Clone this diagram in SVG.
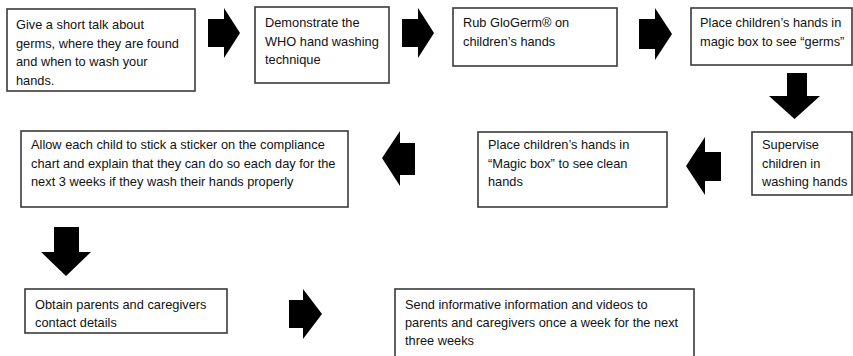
<svg xmlns="http://www.w3.org/2000/svg" width="853" height="356" viewBox="0 0 853 356">
<style>
.box{fill:#fff;stroke:#3a3a3a;stroke-width:1.6}
.t{font-family:"Liberation Sans",Arial,sans-serif;font-size:12.8px;fill:#111}
.arr{fill:#000}
</style>
<rect width="853" height="356" fill="#fff"/>
<g id="n1"><rect class="box" x="7" y="9" width="188" height="82"/>
<text class="t" x="16" y="29">Give a short talk about</text>
<text class="t" x="16" y="47.5">germs, where they are found</text>
<text class="t" x="16" y="66">and when to wash your</text>
<text class="t" x="16" y="84.5">hands.</text></g>
<g id="n2"><rect class="box" x="255" y="7" width="134" height="76"/>
<text class="t" x="265" y="27">Demonstrate the</text>
<text class="t" x="265" y="45.5">WHO hand washing</text>
<text class="t" x="265" y="63.5">technique</text></g>
<g id="n3"><rect class="box" x="453" y="8" width="164" height="58"/>
<text class="t" x="463" y="27">Rub GloGerm® on</text>
<text class="t" x="463" y="46">children’s hands</text></g>
<g id="n4"><rect class="box" x="691" y="8" width="161" height="57"/>
<text class="t" x="700" y="26.5">Place children’s hands in</text>
<text class="t" x="700" y="46">magic box to see “germs”</text></g>
<g id="n5"><rect class="box" x="752" y="132" width="100" height="63"/>
<text class="t" x="762" y="149">Supervise</text>
<text class="t" x="762" y="168">children in</text>
<text class="t" x="762" y="186">washing hands</text></g>
<g id="n6"><rect class="box" x="478" y="132" width="189" height="75"/>
<text class="t" x="488" y="149">Place children’s hands in</text>
<text class="t" x="488" y="168">“Magic box” to see clean</text>
<text class="t" x="488" y="186">hands</text></g>
<g id="n7"><rect class="box" x="21" y="131" width="327" height="76"/>
<text class="t" x="31" y="149">Allow each child to stick a sticker on the compliance</text>
<text class="t" x="31" y="167.5">chart and explain that they can do so each day for the</text>
<text class="t" x="31" y="186">next 3 weeks if they wash their hands properly</text></g>
<g id="n8"><rect class="box" x="25" y="289" width="202" height="44"/>
<text class="t" x="35" y="309">Obtain parents and caregivers</text>
<text class="t" x="35" y="327">contact details</text></g>
<g id="n9"><rect class="box" x="395" y="289" width="299" height="80"/>
<text class="t" x="405" y="309">Send informative information and videos to</text>
<text class="t" x="405" y="327">parents and caregivers once a week for the next</text>
<text class="t" x="405" y="345">three weeks</text></g>
<g id="connectors">
<polygon class="arr" points="208,19 224,19 224,8 240,33 224,58 224,47 208,47"/>
<polygon class="arr" points="402,19 418,19 418,8 434,33 418,58 418,47 402,47"/>
<polygon class="arr" points="639,19 655,19 655,8 672,34 655,60 655,49 639,49"/>
<polygon class="arr" points="787,73 807,73 807,96 820,96 794.5,119 769,96 787,96"/>
<polygon class="arr" points="721,152 705,152 705,137 686,166 705,195 705,181 721,181"/>
<polygon class="arr" points="415,143 400,143 400,131 382,158 400,186 400,175 415,175"/>
<polygon class="arr" points="54,227 79,227 79,252 91,252 66,276 41,252 54,252"/>
<polygon class="arr" points="289,300 303,300 303,289 322,314 303,339 303,328 289,328"/>
</g>
</svg>
